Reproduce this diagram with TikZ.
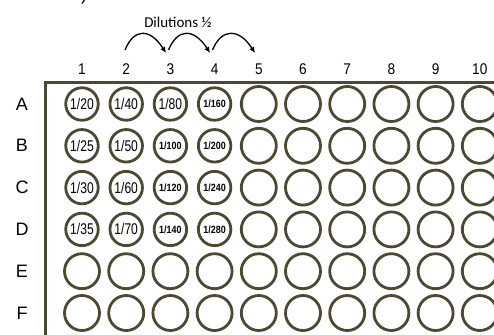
\documentclass[tikz,border=0pt]{standalone}
\usepackage{fontspec}
\setmainfont{Liberation Sans}
\newfontfamily\calib{Carlito}
\usepackage{graphicx}
\usetikzlibrary{arrows.meta}
\definecolor{ring}{HTML}{4D4831}
\newcommand{\bigfrac}[1]{\scalebox{0.78}[1]{\fontsize{15.5}{15.5}\selectfont #1}}
\newcommand{\smallfrac}[1]{\scalebox{0.85}[1]{\fontsize{10.5}{10.5}\selectfont\bfseries #1}}
\begin{document}
\begin{tikzpicture}[x=1pt,y=-1pt,
  well/.style={circle,draw=ring,line width=2.8pt,minimum size=35pt,inner sep=0pt},
  lwell/.style={well,minimum size=32.5pt},
  collab/.style={font=\fontsize{15.5}{15.5}\selectfont},
  rowlab/.style={font=\fontsize{18}{18}\selectfont},
  dil/.style={-{Latex[length=6pt,width=5.5pt]},line width=1.3pt,black}]
\useasboundingbox (0,0) rectangle (494,334);
% fragment of a label above the picture
\node[anchor=base,inner sep=0pt,font=\fontsize{18}{18}\selectfont] (frag) at (84,1) {)};
% plate border
\draw[ring,line width=3pt] (500,83) -- (45,83) -- (45,340);
% column labels
\foreach \i in {1,...,10}{
  \node[collab] (c\i) at ({82+44.2*(\i-1)},69) {\scalebox{0.88}[1]{\i}};
}
% row labels
\foreach \r [count=\j] in {A,B,C,D,E,F}{
  \node[rowlab] (r\r) at (22,{104+41.8*(\j-1)}) {\r};
}
% labelled wells
\foreach \r/\a/\b/\c/\d [count=\j] in {A/{\bigfrac{1/20}}/{\bigfrac{1/40}}/{\bigfrac{1/80}}/{\smallfrac{1/160}},
  B/{\bigfrac{1/25}}/{\bigfrac{1/50}}/{\smallfrac{1/100}}/{\smallfrac{1/200}},
  C/{\bigfrac{1/30}}/{\bigfrac{1/60}}/{\smallfrac{1/120}}/{\smallfrac{1/240}},
  D/{\bigfrac{1/35}}/{\bigfrac{1/70}}/{\smallfrac{1/140}}/{\smallfrac{1/280}}}{
  \node[lwell] (w\r1) at (82,{104+41.8*(\j-1)}) {\a};
  \node[lwell] (w\r2) at (126.2,{104+41.8*(\j-1)}) {\b};
  \node[lwell] (w\r3) at (170.4,{104+41.8*(\j-1)}) {\c};
  \node[lwell] (w\r4) at (214.6,{104+41.8*(\j-1)}) {\d};
  \foreach \i in {5,...,10}{
    \node[well] (w\r\i) at ({82+44.2*(\i-1)},{104+41.8*(\j-1)}) {};
  }
}
\foreach \r [count=\j from 5] in {E,F}{
  \foreach \i in {1,...,10}{
    \node[well] (w\r\i) at ({82+44.2*(\i-1)},{104+41.8*(\j-1)}) {};
  }
}
% dilution arrows
\node[font=\calib\fontsize{15}{15}\selectfont] (dtitle) at (178,22) {Dilutions ½};
\coordinate (s2) at (125,50); \coordinate (e3) at (166,53);
\coordinate (s3) at (168.5,50); \coordinate (e4) at (210,53);
\coordinate (s4) at (212.5,50); \coordinate (e5) at (255,53);
\draw[dil] (s2) .. controls (134,28) and (150,28) .. (e3);
\draw[dil] (s3) .. controls (177.5,28) and (194,28) .. (e4);
\draw[dil] (s4) .. controls (221.5,28) and (239,28) .. (e5);
\end{tikzpicture}
\end{document}
